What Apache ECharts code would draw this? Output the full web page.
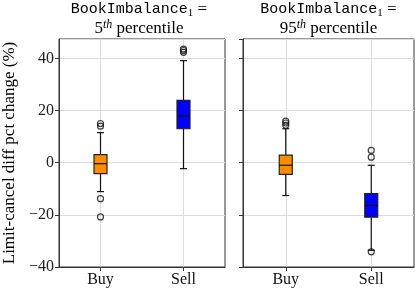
<!DOCTYPE html>
<html>
<head>
<meta charset="utf-8">
<script src="https://cdn.jsdelivr.net/npm/echarts@6/dist/echarts.min.js"></script>
<style>html,body{margin:0;padding:0;background:#fff}#c{width:415px;height:289px}</style>
</head>
<body>
<div id="c"></div>
<script>
// ---- data ----
const categories = ['Buy', 'Sell'];
const yTicks = [-40, -20, 0, 20, 40];
// [min whisker, Q1, median, Q3, max whisker]
const lowBuyStats  = [-11.1, -4.2, -0.4, 3.1, 11.5];
const lowSellStats = [-2.3, 13.0, 17.9, 23.9, 39.1];
const lowBuyOutliers  = [14.0, 15.0, -13.8, -20.8];
const lowSellOutliers = [42.3, 43.0, 43.5];
const highBuyStats  = [-12.6, -4.5, -1.0, 2.9, 13.0];
const highSellStats = [-33.6, -20.9, -16.4, -11.9, -1.0];
const highBuyOutliers  = [14.3, 15.2, 15.9];
const highSellOutliers = [4.7, 2.1, -34.2];

const boxColors = ['#FF8C00', '#0000FF'];
const serif = '"Liberation Serif", "Times New Roman", serif';
const mono = '"Liberation Mono", "DejaVu Sans Mono", monospace';

function boxData(stats) {
  return stats.map((s, i) => [i].concat(s));
}
function outlierData(lists) {
  const out = [];
  lists.forEach((l, i) => l.forEach(v => out.push([categories[i], v])));
  return out;
}

function renderBox(params, api) {
  const x = api.value(0);
  const pMin = api.coord([x, api.value(1)]);
  const pQ1 = api.coord([x, api.value(2)]);
  const pMed = api.coord([x, api.value(3)]);
  const pQ3 = api.coord([x, api.value(4)]);
  const pMax = api.coord([x, api.value(5)]);
  const cx = pMin[0];
  const hw = 6.5, cw = 3.5;
  const ls = {stroke: '#111', lineWidth: 1.2};
  return {
    type: 'group',
    children: [
      {type: 'line', shape: {x1: cx, y1: pMin[1], x2: cx, y2: pQ1[1]}, style: ls},
      {type: 'line', shape: {x1: cx, y1: pQ3[1], x2: cx, y2: pMax[1]}, style: ls},
      {type: 'line', shape: {x1: cx - cw, y1: pMin[1], x2: cx + cw, y2: pMin[1]}, style: ls},
      {type: 'line', shape: {x1: cx - cw, y1: pMax[1], x2: cx + cw, y2: pMax[1]}, style: ls},
      {type: 'rect', shape: {x: cx - hw, y: pQ3[1], width: hw * 2, height: pQ1[1] - pQ3[1]},
        style: {fill: boxColors[params.dataIndex], stroke: '#222', lineWidth: 1.2}},
      {type: 'line', shape: {x1: cx - hw, y1: pMed[1], x2: cx + hw, y2: pMed[1]}, style: {stroke: '#111', lineWidth: 1.2}}
    ]
  };
}

function yAxis(idx, showLabels) {
  return {
    type: 'value', gridIndex: idx, min: -40, max: 47.4, interval: 20,
    name: showLabels ? 'Limit-cancel diff pct change (%)' : '',
    nameLocation: 'middle', nameGap: 41,
    nameTextStyle: {fontFamily: serif, fontSize: 17, color: '#000'},
    axisLine: {show: true, onZero: false, lineStyle: {color: '#333'}},
    axisTick: {show: true, length: 4, lineStyle: {color: '#333'}},
    axisLabel: {
      show: showLabels, fontFamily: serif, fontSize: 16, color: '#222', margin: 5,
      showMaxLabel: false,
      formatter: v => (yTicks.indexOf(v) < 0 ? '' : (v < 0 ? '\u2212' + Math.abs(v) : String(v)))
    },
    splitLine: {show: true, lineStyle: {color: '#dcdcdc', width: 1}}
  };
}
function xAxis(idx) {
  return {
    type: 'category', gridIndex: idx, data: categories, boundaryGap: true,
    axisLine: {show: true, onZero: false, lineStyle: {color: '#333'}},
    axisTick: {show: true, alignWithLabel: true, length: 4, lineStyle: {color: '#333'}},
    axisLabel: {fontFamily: serif, fontSize: 16, color: '#111', margin: 5},
    splitLine: {show: true, alignWithLabel: true, lineStyle: {color: '#dcdcdc', width: 1}}
  };
}

const titleRich = {
  m: {fontFamily: mono, fontSize: 15, color: '#222', lineHeight: 19},
  sub: {fontFamily: serif, fontSize: 11, color: '#222', lineHeight: 19, verticalAlign: 'bottom', padding: [6, 0, 0, 0]},
  n: {fontFamily: serif, fontSize: 17, color: '#222', lineHeight: 19},
  s: {fontFamily: serif, fontSize: 17, color: '#222', lineHeight: 19},
  sup: {fontFamily: serif, fontSize: 12, fontStyle: 'italic', color: '#222', lineHeight: 19, verticalAlign: 'top', padding: [0, 0, 6, 0]}
};

const chart = echarts.init(document.getElementById('c'), null, {renderer: 'canvas'});
chart.setOption({
  animation: false,
  backgroundColor: '#fff',
  grid: [
    {left: 53, right: 190, top: 39, bottom: 22, show: true, borderColor: '#333', borderWidth: 1, backgroundColor: 'transparent'},
    {left: 243, right: 1, top: 39, bottom: 22, show: true, borderColor: '#333', borderWidth: 1, backgroundColor: 'transparent'}
  ],
  xAxis: [xAxis(0), xAxis(1)],
  yAxis: [yAxis(0, true), yAxis(1, false)],
  graphic: [
    {type: 'text', x: 139, y: 0, style: {text: '{m|BookImbalance}{sub|1}{n| =}\n{s|5}{sup|th}{s| percentile}', rich: titleRich, align: 'center', verticalAlign: 'top'}},
    {type: 'text', x: 328.5, y: 0, style: {text: '{m|BookImbalance}{sub|1}{n| =}\n{s|95}{sup|th}{s| percentile}', rich: titleRich, align: 'center', verticalAlign: 'top'}}
  ],
  series: [
    {type: 'custom', xAxisIndex: 0, yAxisIndex: 0, renderItem: renderBox, data: boxData([lowBuyStats, lowSellStats]), z: 3},
    {type: 'custom', xAxisIndex: 1, yAxisIndex: 1, renderItem: renderBox, data: boxData([highBuyStats, highSellStats]), z: 3},
    {type: 'scatter', xAxisIndex: 0, yAxisIndex: 0, symbol: 'circle', symbolSize: 6,
      itemStyle: {color: 'rgba(0,0,0,0)', borderColor: '#111', borderWidth: 1.2},
      data: outlierData([lowBuyOutliers, lowSellOutliers]), z: 4},
    {type: 'scatter', xAxisIndex: 1, yAxisIndex: 1, symbol: 'circle', symbolSize: 6,
      itemStyle: {color: 'rgba(0,0,0,0)', borderColor: '#111', borderWidth: 1.2},
      data: outlierData([highBuyOutliers, highSellOutliers]), z: 4}
  ]
});
</script>
</body>
</html>
